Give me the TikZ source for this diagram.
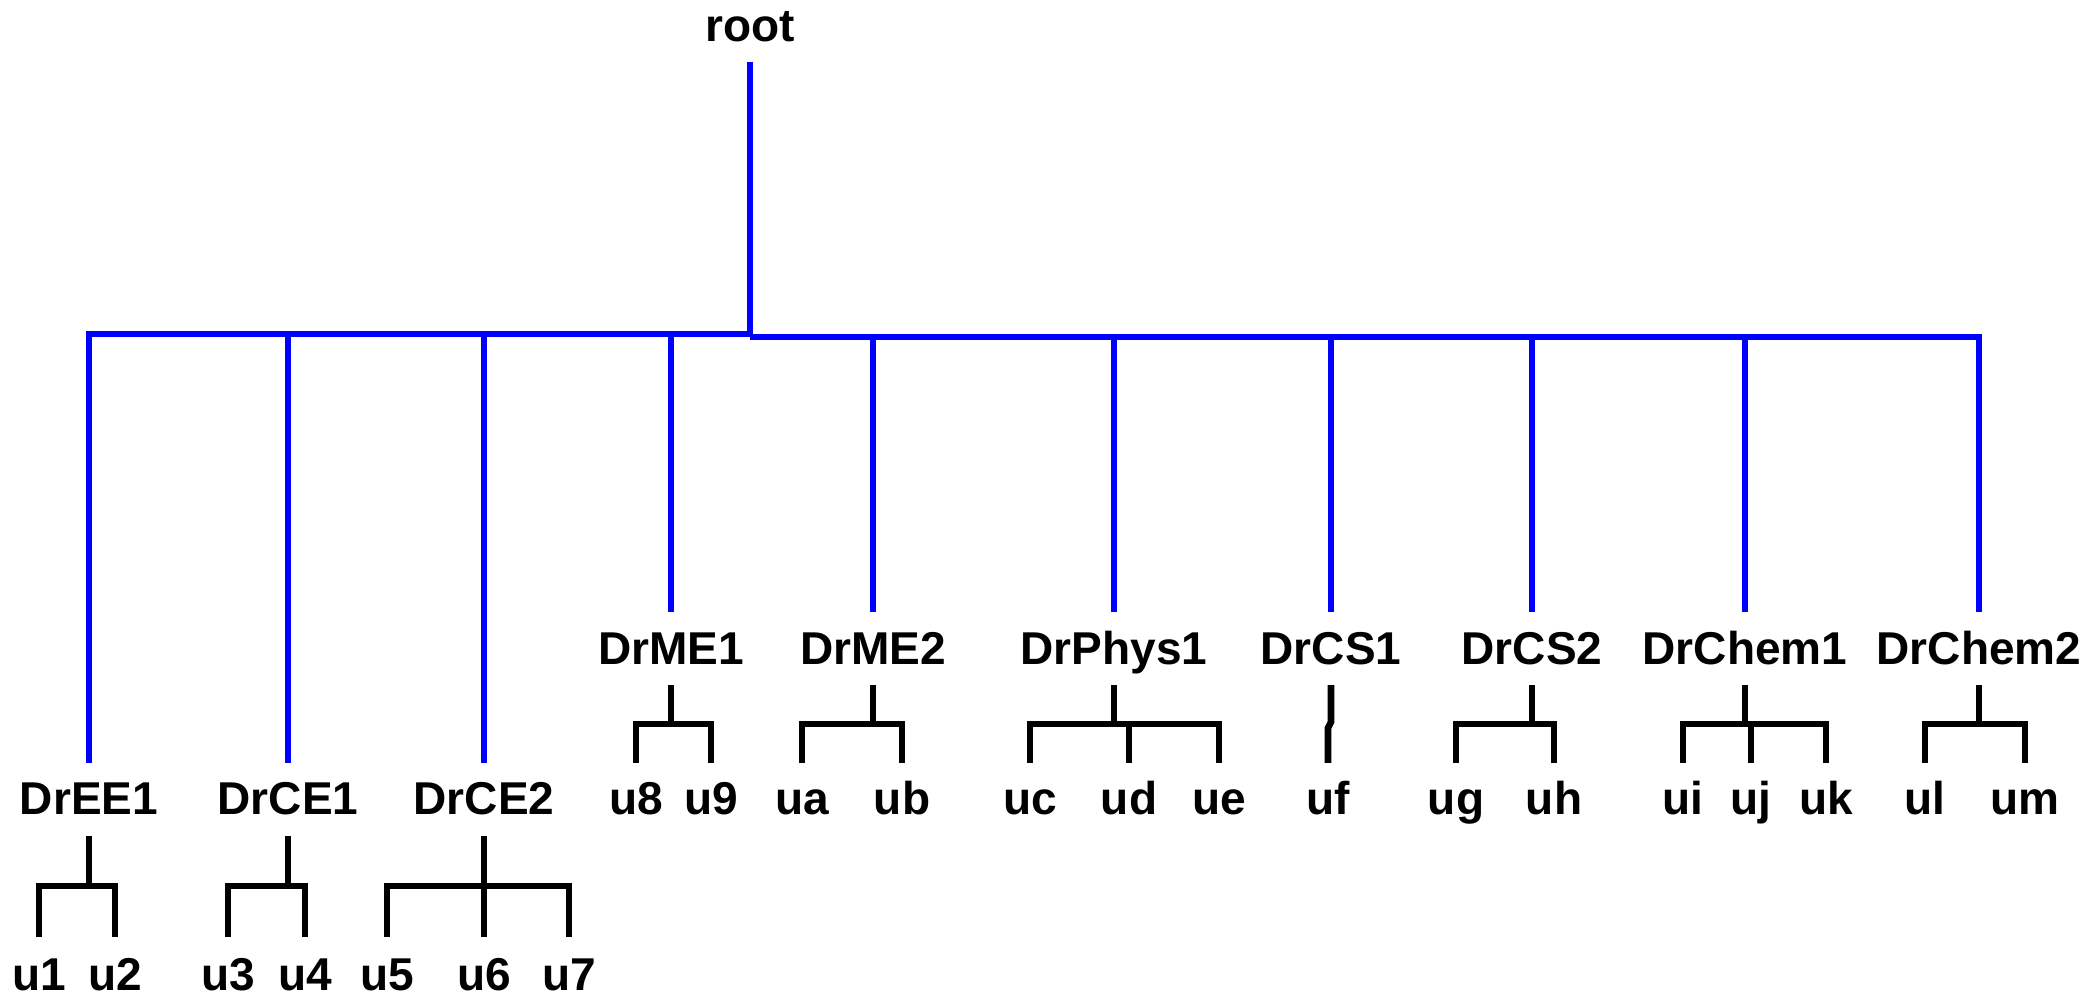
\documentclass[tikz,border=0pt]{standalone}
\usepackage{fontspec}
\setmainfont{Liberation Sans}
\begin{document}
\begin{tikzpicture}[x=0.01cm,y=-0.01cm,
  lbl/.style={font=\fontsize{13.09}{15}\selectfont\bfseries, inner sep=0pt, anchor=base},
  blueline/.style={draw=blue, line width=0.068cm},
  blackline/.style={draw=black, line width=0.066cm}]
\useasboundingbox (0,0) rectangle (2097,995);
% labels
\node[lbl] (root) at (750,42) {root};
\node[lbl] (ee1) at (89,815) {DrEE1};
\node[lbl] (ce1) at (288,815) {DrCE1};
\node[lbl] (ce2) at (484,815) {DrCE2};
\node[lbl] (me1) at (671,665) {DrME1};
\node[lbl] (me2) at (873,665) {DrME2};
\node[lbl] (phys1) at (1114,665) {DrPhys1};
\node[lbl] (cs1) at (1331,665) {DrCS1};
\node[lbl] (cs2) at (1532,665) {DrCS2};
\node[lbl] (chem1) at (1745,665) {DrChem1};
\node[lbl] (chem2) at (1979,665) {DrChem2};
% leaves
\node[lbl] (u1) at (39,990) {u1};
\node[lbl] (u2) at (115,990) {u2};
\node[lbl] (u3) at (228,990) {u3};
\node[lbl] (u4) at (305,990) {u4};
\node[lbl] (u5) at (387,990) {u5};
\node[lbl] (u6) at (484,990) {u6};
\node[lbl] (u7) at (569,990) {u7};
\node[lbl] (u8) at (636,815) {u8};
\node[lbl] (u9) at (711,815) {u9};
\node[lbl] (ua) at (802,815) {ua};
\node[lbl] (ub) at (902,815) {ub};
\node[lbl] (uc) at (1030,815) {uc};
\node[lbl] (ud) at (1129,815) {ud};
\node[lbl] (ue) at (1219,815) {ue};
\node[lbl] (uf) at (1328,815) {uf};
\node[lbl] (ug) at (1456,815) {ug};
\node[lbl] (uh) at (1554,815) {uh};
\node[lbl] (ui) at (1683,815) {ui};
\node[lbl] (uj) at (1751,815) {uj};
\node[lbl] (uk) at (1826,815) {uk};
\node[lbl] (ul) at (1925,815) {ul};
\node[lbl] (um) at (2025,815) {um};
% blue bar
\coordinate (barL) at (750,334);
\coordinate (barR) at (750,337);
\draw[blueline] ([yshift=-0.2cm]root.base) -- (barL);
\draw[blueline] ([yshift=0.52cm]ee1.base) |- (barL);
\draw[blueline] ([yshift=0.52cm]ce1.base) -- (ce1.base |- barL);
\draw[blueline] ([yshift=0.52cm]ce2.base) -- (ce2.base |- barL);
\draw[blueline] ([yshift=0.53cm]me1.base) -- (me1.base |- barL);
\draw[blueline] (barR) -| ([yshift=0.53cm]chem2.base);
\draw[blueline] ([yshift=0.53cm]me2.base) -- (me2.base |- barR);
\draw[blueline] ([yshift=0.53cm]phys1.base) -- (phys1.base |- barR);
\draw[blueline] ([yshift=0.53cm]cs1.base) -- (cs1.base |- barR);
\draw[blueline] ([yshift=0.53cm]cs2.base) -- (cs2.base |- barR);
\draw[blueline] ([yshift=0.53cm]chem1.base) -- (chem1.base |- barR);
% black subtrees (lower)
\coordinate (ee1bar) at ([yshift=-0.71cm]ee1.base);
\draw[blackline] ([yshift=-0.21cm]ee1.base) -- (ee1bar);
\draw[blackline] ([yshift=0.53cm]u1.base) |- (ee1bar) -| ([yshift=0.53cm]u2.base);
\coordinate (ce1bar) at ([yshift=-0.71cm]ce1.base);
\draw[blackline] ([yshift=-0.21cm]ce1.base) -- (ce1bar);
\draw[blackline] ([yshift=0.53cm]u3.base) |- (ce1bar) -| ([yshift=0.53cm]u4.base);
\coordinate (ce2bar) at ([yshift=-0.71cm]ce2.base);
\draw[blackline] ([yshift=-0.21cm]ce2.base) -- ([yshift=0.53cm]u6.base);
\draw[blackline] ([yshift=0.53cm]u5.base) |- (ce2bar) -| ([yshift=0.53cm]u7.base);
% black subtrees (upper)
\coordinate (me1bar) at ([yshift=-0.59cm]me1.base);
\draw[blackline] ([yshift=-0.2cm]me1.base) -- (me1bar);
\draw[blackline] ([yshift=0.52cm]u8.base) |- (me1bar) -| ([yshift=0.52cm]u9.base);
\coordinate (me2bar) at ([yshift=-0.59cm]me2.base);
\draw[blackline] ([yshift=-0.2cm]me2.base) -- (me2bar);
\draw[blackline] ([yshift=0.52cm]ua.base) |- (me2bar) -| ([yshift=0.52cm]ub.base);
\coordinate (phys1bar) at ([yshift=-0.59cm]phys1.base);
\draw[blackline] ([yshift=-0.2cm]phys1.base) -- (phys1bar);
\draw[blackline] ([yshift=0.52cm]uc.base) |- (phys1bar) -| ([yshift=0.52cm]ue.base);
\draw[blackline] ([yshift=0.52cm]ud.base) -- (ud.base |- phys1bar);
\coordinate (cs1bar) at ([yshift=-0.57cm]cs1.base);
\coordinate (cs1jog) at ([yshift=0.87cm]uf.base);
\draw[blackline] ([yshift=-0.2cm]cs1.base) -- (cs1bar) -- (cs1jog) -- ([yshift=0.52cm]uf.base);
\coordinate (cs2bar) at ([yshift=-0.59cm]cs2.base);
\draw[blackline] ([yshift=-0.2cm]cs2.base) -- (cs2bar);
\draw[blackline] ([yshift=0.52cm]ug.base) |- (cs2bar) -| ([yshift=0.52cm]uh.base);
\coordinate (chem1bar) at ([yshift=-0.59cm]chem1.base);
\draw[blackline] ([yshift=-0.2cm]chem1.base) -- (chem1bar);
\draw[blackline] ([yshift=0.52cm]ui.base) |- (chem1bar) -| ([yshift=0.52cm]uk.base);
\draw[blackline] ([yshift=0.52cm]uj.base) -- (uj.base |- chem1bar);
\coordinate (chem2bar) at ([yshift=-0.59cm]chem2.base);
\draw[blackline] ([yshift=-0.2cm]chem2.base) -- (chem2bar);
\draw[blackline] ([yshift=0.52cm]ul.base) |- (chem2bar) -| ([yshift=0.52cm]um.base);
\end{tikzpicture}
\end{document}
